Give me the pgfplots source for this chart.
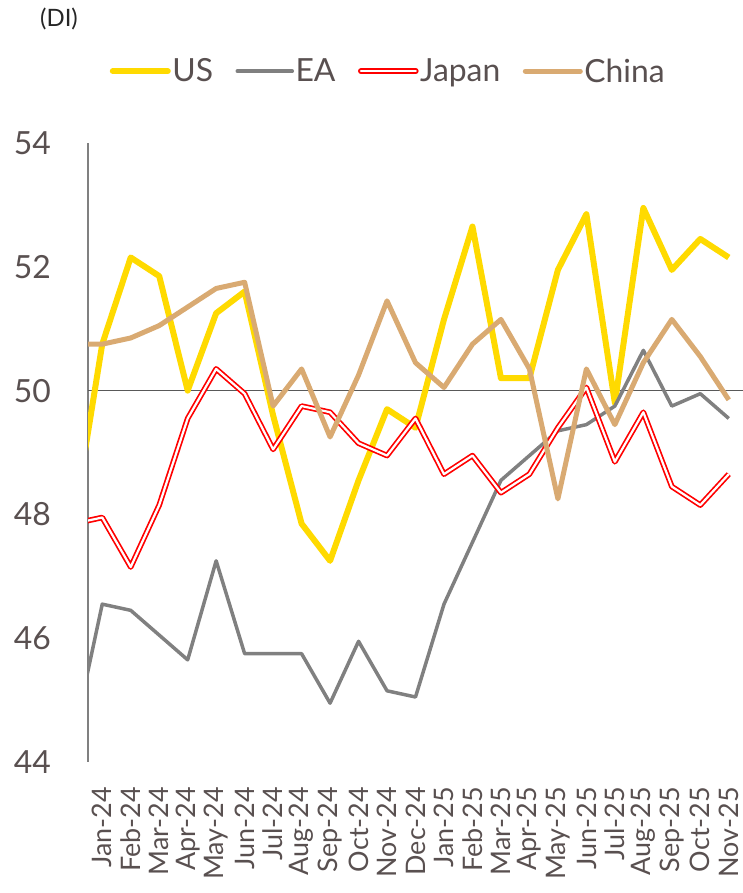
\documentclass[border=0pt]{standalone}
\usepackage{fontspec}
\setmainfont{Lato}
\usepackage{pgfplots}
\pgfplotsset{compat=1.18}
\definecolor{usc}{RGB}{255,218,0}
\definecolor{eac}{RGB}{128,128,128}
\definecolor{jpc}{RGB}{255,0,0}
\definecolor{cnc}{RGB}{217,170,114}
\definecolor{txt}{RGB}{89,80,80}
\begin{document}
\begin{tikzpicture}[x=1bp,y=1bp]
\useasboundingbox (0,0) rectangle (743,893);
\begin{axis}[
  at={(88bp,131bp)}, anchor=south west,
  scale only axis, width=655bp, height=619bp,
  xmin=-0.5, xmax=22.5, ymin=44, ymax=54,
  axis lines*=left,
  x axis line style={draw=none},
  y axis line style={draw=eac, line width=1.5bp, -},
  tick style={draw=none},
  major tick length=0pt,
  no markers,
  /pgf/number format/assume math mode=true,
  xtick={0,...,22},
  xticklabels={Jan-24,Feb-24,Mar-24,Apr-24,May-24,Jun-24,Jul-24,Aug-24,Sep-24,Oct-24,Nov-24,Dec-24,Jan-25,Feb-25,Mar-25,Apr-25,May-25,Jun-25,Jul-25,Aug-25,Sep-25,Oct-25,Nov-25},
  xticklabel style={yshift=-25bp, rotate=90, anchor=east, font=\fontsize{27}{27}\selectfont, text=txt, inner sep=0pt},
  ytick={44,46,48,50,52,54},
  yticklabel style={font=\fontsize{32}{32}\selectfont, text=txt, anchor=east, xshift=-37bp, inner sep=0pt},
  extra y ticks={50},
  extra y tick labels={},
  extra y tick style={grid=major, major grid style={draw=black!65, line width=1.3bp}},
  legend columns=4,
  legend style={at={(0.458,1.116)}, anchor=center, draw=none, fill=none,
    font=\fontsize{32}{32}\selectfont, text=txt,
    nodes={inner sep=1.5bp},
    /tikz/every even column/.append style={column sep=21bp}},
  legend image code/.code={\draw[#1, line cap=round] (0bp,0bp) -- (55bp,0bp);},
]
\addplot[usc, line width=6bp, line join=round] coordinates {
(-1,47.9) (0,50.75) (1,52.15) (2,51.85) (3,50.0) (4,51.25) (5,51.6) (6,49.6) (7,47.85) (8,47.25) (9,48.55) (10,49.7) (11,49.4) (12,51.15) (13,52.65) (14,50.2) (15,50.2) (16,51.95) (17,52.85) (18,49.8) (19,52.95) (20,51.95) (21,52.45) (22,52.15)};
\addlegendentry{US}
\addplot[eac, line width=3.5bp, line join=round] coordinates {
(-1,44.4) (0,46.55) (1,46.45) (2,46.05) (3,45.65) (4,47.25) (5,45.75) (6,45.75) (7,45.75) (8,44.95) (9,45.95) (10,45.15) (11,45.05) (12,46.55) (13,47.55) (14,48.55) (15,48.95) (16,49.35) (17,49.45) (18,49.75) (19,50.65) (20,49.75) (21,49.95) (22,49.55)};
\addlegendentry{EA}
\addplot[jpc, line width=1.7bp, double=white, double distance=2.2bp, line join=round] coordinates {
(-1,47.85) (0,47.95) (1,47.15) (2,48.15) (3,49.55) (4,50.35) (5,49.95) (6,49.05) (7,49.75) (8,49.65) (9,49.15) (10,48.95) (11,49.55) (12,48.65) (13,48.95) (14,48.35) (15,48.65) (16,49.4) (17,50.05) (18,48.85) (19,49.65) (20,48.45) (21,48.15) (22,48.65)};
\addlegendentry{Japan}
\addplot[cnc, line width=5bp, line join=round] coordinates {
(-1,50.75) (0,50.75) (1,50.85) (2,51.05) (3,51.35) (4,51.65) (5,51.75) (6,49.75) (7,50.35) (8,49.25) (9,50.25) (10,51.45) (11,50.45) (12,50.05) (13,50.75) (14,51.15) (15,50.35) (16,48.25) (17,50.35) (18,49.45) (19,50.45) (20,51.15) (21,50.55) (22,49.85)};
\addlegendentry{China}
\end{axis}
\node[font=\fontsize{24}{24}\selectfont, text=black!85] at (59,874) {(DI)};
\end{tikzpicture}
\end{document}
